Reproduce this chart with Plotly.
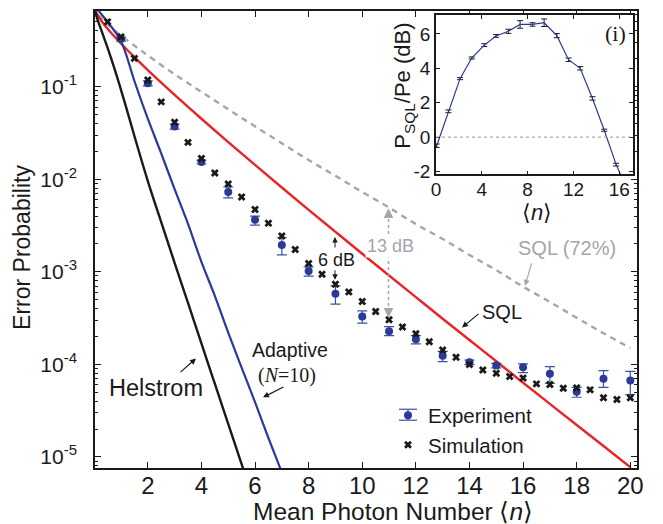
import plotly.graph_objects as go

# ---------------- data ----------------
n_helstrom = [0, 0.1, 0.25, 0.5, 0.75, 1, 1.25, 1.5, 2, 2.5, 3, 3.5, 4, 4.5, 5, 5.5, 6]
pe_helstrom = [0.75, 0.556, 0.4186, 0.2617, 0.1584, 0.0924, 0.0524, 0.0293, 0.00955,
               0.00344, 0.00125, 4.6e-4, 1.68e-4, 6.17e-5, 2.27e-5, 8.35e-6, 3.07e-6]

n_adaptive = [0, 0.5, 1, 1.5, 2, 2.5, 3, 3.5, 4, 4.5, 5, 5.5, 6, 6.5, 7, 7.5]
pe_adaptive = [0.75, 0.50, 0.31, 0.115, 0.045, 0.019, 0.0078, 0.0033, 0.00128, 5.5e-4,
               2.2e-4, 9.2e-5, 3.9e-5, 1.6e-5, 6.8e-6, 2.9e-6]

n_sql = [0, 0.1, 0.25, 0.5, 1, 1.5, 2, 2.5, 3, 4, 5, 6, 7, 8, 9, 10, 11, 12, 13, 14, 15,
         16, 17, 18, 19, 20]
pe_sql = [0.75, 0.611, 0.522, 0.422, 0.292, 0.2085, 0.151, 0.1106, 0.0816, 0.045, 0.0252,
          0.01426, 0.00813, 0.00467, 0.0027, 0.001565, 0.000911, 0.000532, 0.000311,
          0.000183, 0.000108, 6.33e-5, 3.74e-5, 2.21e-5, 1.31e-5, 7.74e-6]

n_sql72 = [0, 0.1, 0.25, 0.5, 1, 1.5, 2, 3, 4, 5, 6, 7, 8, 9, 10, 11, 12, 13, 14, 15, 16,
           17, 18, 19, 20]
pe_sql72 = [0.75, 0.633, 0.559, 0.473, 0.357, 0.2775, 0.217, 0.136, 0.0877, 0.0570, 0.0372,
            0.0244, 0.0161, 0.01088, 0.00726, 0.00494, 0.00327, 0.00226, 0.00152, 0.00104,
            0.000689, 0.000472, 0.000318, 0.000217, 0.000150]

n_exp = [1, 2, 3, 4, 5, 6, 7, 8, 9, 10, 11, 12, 13, 14, 15, 16, 17, 18, 19, 20]
pe_exp = [0.326, 0.1086, 0.0371, 0.01531, 0.00728, 0.00364, 0.00195, 0.00102, 0.00058,
          0.000329, 0.000227, 0.000187, 0.000124, 0.000105, 9.7e-5, 9.3e-5, 7.9e-5,
          5.05e-5, 6.97e-5, 6.68e-5]
pe_exp_hi = [0.343, 0.1154, 0.0393, 0.0161, 0.00824, 0.00399, 0.00233, 0.001127, 0.000703,
             0.000378, 0.000255, 0.000204, 0.000138, 0.000111, 0.0001026, 0.000101,
             9.44e-5, 5.65e-5, 8.55e-5, 8.41e-5]
pe_exp_lo = [0.310, 0.102, 0.0347, 0.0146, 0.00628, 0.00319, 0.00152, 0.000895, 0.000447,
             0.000279, 0.000204, 0.000166, 0.000107, 9.93e-5, 9.15e-5, 8.14e-5, 6.24e-5,
             4.41e-5, 5.65e-5, 4.72e-5]

n_sim = [0.5, 1, 1.5, 2, 2.5, 3, 3.5, 4, 4.5, 5, 5.5, 6, 6.5, 7, 7.5, 8, 8.5, 9, 9.5, 10,
         10.5, 11, 11.5, 12, 12.5, 13, 13.5, 14, 14.5, 15, 15.5, 16, 16.5, 17, 17.5, 18,
         18.5, 19, 19.5, 20]
pe_sim = [0.501, 0.345, 0.202, 0.118, 0.0684, 0.0413, 0.0250, 0.0167, 0.01167, 0.00888,
          0.00643, 0.00471, 0.00335, 0.00243, 0.00174, 0.00123, 0.00094, 0.000733, 0.000606,
          0.000477, 0.000372, 0.000303, 0.000253, 0.000214, 0.000175, 0.000143, 0.000119,
          9.93e-5, 8.7e-5, 8.0e-5, 7.4e-5, 7.1e-5, 6.15e-5, 6.05e-5, 5.52e-5, 5.57e-5,
          5.3e-5, 4.35e-5, 4.17e-5, 4.35e-5]

inset_n = [0.06, 1.08, 2.1, 3.12, 4.22, 5.24, 6.32, 7.34, 8.42, 9.44, 10.55, 11.57, 12.59,
           13.66, 14.69, 15.73, 16.8]
inset_db = [-0.5, 1.5, 3.4, 4.6, 5.35, 5.88, 6.15, 6.55, 6.55, 6.65, 5.9, 4.5, 4.0, 2.25,
            0.4, -1.6, -3.2]
inset_err = [0.1, 0.08, 0.06, 0.06, 0.08, 0.08, 0.12, 0.22, 0.1, 0.22, 0.12, 0.1, 0.1, 0.1,
             0.06, 0.08, 0.1]

x_ticks = [2, 4, 6, 8, 10, 12, 14, 16, 18, 20]
y_ticks = [1e-5, 1e-4, 1e-3, 1e-2, 1e-1]
y_exponents = ["-5", "-4", "-3", "-2", "-1"]
inset_xticks = [0, 4, 8, 12, 16]
inset_yticks = [-2, 0, 2, 4, 6]
inset_yticktext = ["-2", "0", "2", "4", "6"]

# ---------------- styling ----------------
W, H = 663, 524
L, T, PW, PH = 95, 9, 542, 459
FONT = "Liberation Sans, Arial, Helvetica, sans-serif"
SERIF = "Liberation Serif, Times New Roman, serif"
RED = "#ec2227"
BLUE = "#2b3a98"
BLACK = "#1a1a1a"
GRAY = "#a3a6aa"


def px(x, y):
    return (x - L) / PW, (T + PH - y) / PH


minor_vals = [k * 10 ** e for e in range(-6, 0) for k in range(2, 10)]
y_ticktext = ["10<sup><span style='font-size:15px'>%s</span></sup>" % e for e in y_exponents]

fig = go.Figure()
fig.add_trace(go.Scatter(x=n_sql72, y=pe_sql72, mode="lines", line_shape="spline",
                         line=dict(color=GRAY, width=2.4, dash="6px,5px"), showlegend=False))
fig.add_trace(go.Scatter(x=n_sql, y=pe_sql, mode="lines", line_shape="spline",
                         line=dict(color=RED, width=2.4), showlegend=False))
fig.add_trace(go.Scatter(x=n_helstrom, y=pe_helstrom, mode="lines", line_shape="spline",
                         line=dict(color=BLACK, width=2.4), showlegend=False))
fig.add_trace(go.Scatter(x=n_adaptive, y=pe_adaptive, mode="lines", line_shape="spline",
                         line=dict(color=BLUE, width=2.2), showlegend=False))

err_plus = [h - v for h, v in zip(pe_exp_hi, pe_exp)]
err_minus = [v - l for l, v in zip(pe_exp_lo, pe_exp)]
fig.add_trace(go.Scatter(
    x=n_exp, y=pe_exp, mode="markers", name="Experiment",
    marker=dict(symbol="circle", size=8, color=BLUE),
    error_y=dict(type="data", symmetric=False, array=err_plus, arrayminus=err_minus,
                 color="#3d4fa8", thickness=1.2, width=5)))
fig.add_trace(go.Scatter(
    x=n_sim, y=pe_sim, mode="markers", name="Simulation",
    marker=dict(symbol="x", size=7, color=BLACK, line=dict(width=0))))

# inset
fig.add_trace(go.Scatter(
    x=inset_n, y=inset_db, mode="lines", xaxis="x2", yaxis="y2", showlegend=False,
    line=dict(color=BLUE, width=1.2),
    error_y=dict(type="data", array=inset_err, color=BLACK, thickness=1, width=3)))

axis_common = dict(showline=True, linecolor=BLACK, linewidth=1.5, mirror="ticks",
                   ticks="inside", tickcolor=BLACK, showgrid=False, zeroline=False)

fig.update_layout(
    width=W, height=H,
    margin=dict(l=L, r=W - L - PW, t=T, b=H - T - PH),
    paper_bgcolor="white", plot_bgcolor="white",
    font=dict(family=FONT, color=BLACK),
    xaxis=dict(range=[0.03, 20.25], tickvals=x_ticks, ticklen=6, tickwidth=1,
               tickfont=dict(size=24), ticklabelstandoff=-5, **axis_common),
    yaxis=dict(type="log", range=[-5.12, -0.183], tickvals=y_ticks, ticktext=y_ticktext,
               ticklen=6, tickwidth=1, tickfont=dict(size=21), ticklabelstandoff=12,
               minor=dict(tickvals=minor_vals, ticks="inside", ticklen=3,
                          tickcolor=BLACK, showgrid=False),
               **axis_common),
    xaxis2=dict(domain=[(436 - L) / PW, (633 - L) / PW], anchor="y2", range=[0, 17.2],
                tickvals=inset_xticks, ticklen=4, tickfont=dict(size=19),
                ticklabelstandoff=-3, **axis_common),
    yaxis2=dict(domain=[(T + PH - 173) / PH, (T + PH - 13) / PH], anchor="x2",
                range=[-2.16, 7.1], tickvals=inset_yticks, ticktext=inset_yticktext,
                ticklen=4, tickfont=dict(size=19), **axis_common),
    legend=dict(x=(388 - L) / PW, y=(T + PH - 395) / PH, xanchor="left", yanchor="top",
                bgcolor="rgba(0,0,0,0)", font=dict(size=20.5), itemwidth=30,
                tracegroupgap=0),
)

# zero line in inset
fig.add_shape(type="line", xref="x2", yref="y2", x0=0, x1=17.2, y0=0, y1=0,
              line=dict(color="#999999", width=1, dash="dot"))

ann = []


def text(x, y, s, size, color=BLACK, family=FONT, angle=0, bg=None):
    xp, yp = px(x, y)
    d = dict(x=xp, y=yp, xref="paper", yref="paper", text=s, showarrow=False,
             font=dict(size=size, color=color, family=family), textangle=angle,
             xanchor="center", yanchor="middle")
    if bg:
        d["bgcolor"] = bg
    ann.append(d)


def arrow(hx, hy, tx, ty, color=BLACK, width=1.2, size=1.0):
    xp, yp = px(hx, hy)
    ann.append(dict(x=xp, y=yp, xref="paper", yref="paper", text="", showarrow=True,
                    ax=tx - hx, ay=ty - hy, arrowhead=2, arrowsize=size,
                    arrowwidth=width, arrowcolor=color, standoff=0))


def seg(x0, y0, x1, y1, color, width=1.2, dash=None):
    a, b = px(x0, y0)
    c, d = px(x1, y1)
    fig.add_shape(type="line", xref="paper", yref="paper", x0=a, y0=b, x1=c, y1=d,
                  line=dict(color=color, width=width, dash=dash))


# axis titles
text(393, 512, "Mean Photon Number ⟨<i>n</i>⟩", 24.5)
text(22, 247, "Error Probability", 23, angle=-90)
text(404, 84, "P<sub>SQL</sub>/Pe (dB)", 22, angle=-90)
text(537, 211, "⟨<i>n</i>⟩", 22)
text(615, 32, "(i)", 22, family=SERIF)

# curve labels
text(156, 388, "Helstrom", 23.5)
arrow(196, 358, 179, 373)
text(290, 349, "Adaptive", 19.5)
text(287, 375, "(<i>N</i>=10)", 20, family=SERIF)
arrow(263, 397, 285, 386)
text(502, 311, "SQL", 20)
arrow(462, 327, 480, 312)
text(567, 247, "SQL (72%)", 20, color=GRAY)
arrow(525, 285, 532, 261, color=GRAY)

# 13 dB marker
seg(388.5, 212, 388.5, 312, GRAY, 1.5, "dot")
arrow(388.5, 207, 388.5, 216, color=GRAY, width=1.5, size=1.3)
arrow(388.5, 317, 388.5, 308, color=GRAY, width=1.5, size=1.3)
text(390, 245, "13 dB", 18, color=GRAY, bg="white")

# 6 dB marker
text(336, 259, "6 dB", 18)
arrow(335, 236, 335, 248, width=1, size=1.1)
arrow(335, 279, 335, 268, width=1, size=1.1)

# error-bar glyph for the legend's Experiment entry
seg(408, 409, 408, 420, "#3d4fa8", 1.2)
seg(399, 409, 417, 409, "#3d4fa8", 1.2)
seg(399, 420, 417, 420, "#3d4fa8", 1.2)

fig.update_layout(annotations=ann)
fig.write_html("out.html")
